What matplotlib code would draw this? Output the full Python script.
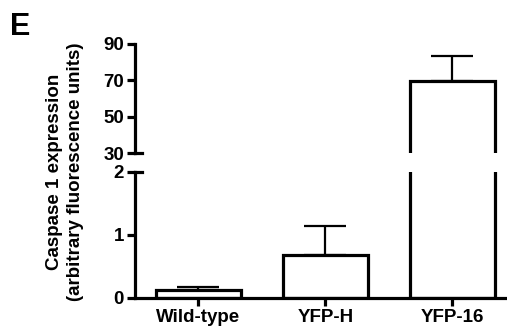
import numpy as np
import matplotlib
matplotlib.use("Agg")
import matplotlib.pyplot as plt

plt.rcParams['font.family'] = ['Liberation Sans', 'DejaVu Sans']
plt.rcParams['font.weight'] = 'bold'

groups = ["Wild-type", "YFP-H", "YFP-16"]
means = [0.12, 0.68, 69.5]
sem = [0.05, 0.47, 14.0]

top_ticks = [30, 50, 70, 90]
bottom_ticks = [0, 1, 2]

W, H = 507, 332
fig = plt.figure(figsize=(W / 100, H / 100), dpi=100)
left = 135 / W
width = 1 - left
ax_top = fig.add_axes([left, 1 - 153 / H, width, (153 - 44) / H])
ax_bot = fig.add_axes([left, 1 - 298 / H, width, (298 - 172) / H])

x = np.arange(len(groups))
lw = 2.3
for ax in (ax_top, ax_bot):
    ax.bar(x, means, width=0.67, color='white', edgecolor='black', linewidth=lw, zorder=2)
    ax.errorbar(x, means, yerr=[np.zeros(len(sem)), sem], fmt='none', ecolor='black',
                elinewidth=1.6, capsize=15, capthick=1.6, zorder=1)
    ax.set_xlim(-0.5, 2.43)
    for s in ('top', 'right'):
        ax.spines[s].set_visible(False)
    ax.spines['left'].set_linewidth(lw)
    ax.spines['bottom'].set_linewidth(lw)
    ax.tick_params(axis='both', width=lw, length=6, labelsize=13.5, pad=2)
    ax.set_facecolor('none')

ax_top.set_ylim(30, 90)
ax_top.set_yticks(top_ticks)
ax_top.spines['bottom'].set_visible(False)
ax_top.set_xticks([])
ax_top.plot([0, 0.02], [0, 0], transform=ax_top.transAxes, color='black', lw=lw, clip_on=False)

ax_bot.set_ylim(0, 2)
ax_bot.set_yticks(bottom_ticks)
ax_bot.set_xticks(x)
ax_bot.set_xticklabels(groups, fontweight='bold')
ax_bot.plot([0, 0.02], [1, 1], transform=ax_bot.transAxes, color='black', lw=lw, clip_on=False)

for ax in (ax_top, ax_bot):
    for t in ax.get_yticklabels():
        t.set_fontweight('bold')

fig.text(65 / W, 1 - 172 / H, "Caspase 1 expression\n(arbitrary fluorescence units)",
         rotation=90, ha='center', va='center', multialignment='center',
         fontsize=13.5, fontweight='bold', linespacing=1.25)
fig.text(10 / W, 1 - 35 / H, "E", fontsize=22, fontweight='bold', ha='left', va='baseline')

fig.savefig("out.png", dpi=100)
